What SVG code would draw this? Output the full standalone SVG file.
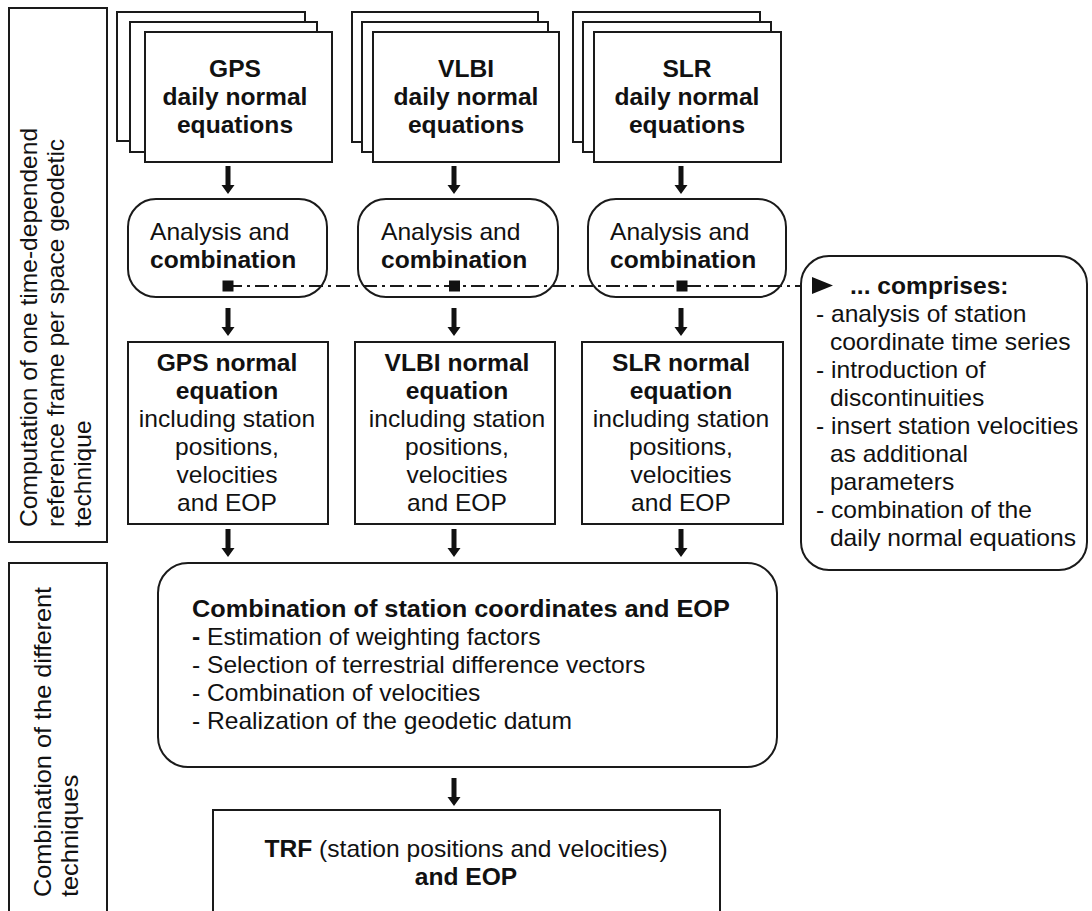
<svg xmlns="http://www.w3.org/2000/svg" xmlns:xlink="http://www.w3.org/1999/xlink" width="1092" height="911" viewBox="0 0 1092 911">
<style>
.box{fill:#fff;stroke:#1a1a1a;stroke-width:2}
.t{font-family:"Liberation Sans",Arial,Helvetica,sans-serif;font-size:23px;fill:#111}
.m{text-anchor:middle}
.b{font-weight:bold}
.dd{fill:none;stroke:#1a1a1a;stroke-width:2;stroke-dasharray:14 5 3 5}
.sq{fill:#111}
</style>
<defs>
<path id="arr" d="M-2.5 0H2.5V19H6.5L0 28L-6.5 19H-2.5Z" fill="#111"/>
</defs>
<rect width="1092" height="911" fill="#fff"/>

<g id="label-top">
<rect class="box" x="9" y="8" width="98" height="534"/>
<g class="t">
<text transform="translate(37 527) rotate(-90) scale(1.07 1)">Computation of one time-dependend</text>
<text transform="translate(64 527) rotate(-90) scale(1.07 1)">reference frame per space geodetic</text>
<text transform="translate(91 527) rotate(-90) scale(1.07 1)">technique</text>
</g>
</g>

<g id="label-bottom">
<rect class="box" x="9" y="563" width="98" height="370"/>
<g class="t">
<text transform="translate(51 897) rotate(-90) scale(1.1 1)">Combination of the different</text>
<text transform="translate(78 897) rotate(-90) scale(1.1 1)">techniques</text>
</g>
</g>

<g id="gps-daily">
<rect class="box" x="117" y="12" width="188" height="129"/>
<rect class="box" x="130" y="22" width="187" height="130"/>
<rect class="box" x="145" y="32" width="187" height="130"/>
<g class="t m b" transform="translate(235 0) scale(1.07 1)">
<text x="0" y="77">GPS</text>
<text x="0" y="105">daily normal</text>
<text x="0" y="133">equations</text>
</g>
</g>

<g id="vlbi-daily">
<rect class="box" x="352" y="12" width="186" height="130"/>
<rect class="box" x="362" y="22" width="186" height="130"/>
<rect class="box" x="373" y="32" width="186" height="130"/>
<g class="t m b" transform="translate(466 0) scale(1.07 1)">
<text x="0" y="77">VLBI</text>
<text x="0" y="105">daily normal</text>
<text x="0" y="133">equations</text>
</g>
</g>

<g id="slr-daily">
<rect class="box" x="573" y="12" width="187" height="130"/>
<rect class="box" x="583" y="22" width="188" height="130"/>
<rect class="box" x="594" y="32" width="187" height="130"/>
<g class="t m b" transform="translate(687 0) scale(1.07 1)">
<text x="0" y="77">SLR</text>
<text x="0" y="105">daily normal</text>
<text x="0" y="133">equations</text>
</g>
</g>

<g id="gps-analysis">
<rect class="box" x="128" y="199" width="199" height="98" rx="28"/>
<g class="t" transform="translate(150 0) scale(1.07 1)">
<text x="0" y="240">Analysis and</text>
<text x="0" y="268" class="b">combination</text>
</g>
</g>

<g id="vlbi-analysis">
<rect class="box" x="358" y="199" width="200" height="98" rx="28"/>
<g class="t" transform="translate(381 0) scale(1.07 1)">
<text x="0" y="240">Analysis and</text>
<text x="0" y="268" class="b">combination</text>
</g>
</g>

<g id="slr-analysis">
<rect class="box" x="588" y="199" width="198" height="98" rx="28"/>
<g class="t" transform="translate(610 0) scale(1.07 1)">
<text x="0" y="240">Analysis and</text>
<text x="0" y="268" class="b">combination</text>
</g>
</g>

<g id="comprises">
<rect class="box" x="801" y="256" width="286" height="314" rx="28"/>
<path d="M812 277L833 285.5L812 294Z" fill="#111"/>
<g class="t" transform="translate(816 0) scale(1.07 1)">
<text x="31.8" y="294" class="b">... comprises:</text>
<text x="0" y="322">- analysis of station</text>
<text x="13" y="350">coordinate time series</text>
<text x="0" y="378">- introduction of</text>
<text x="13" y="406">discontinuities</text>
<text x="0" y="434">- insert station velocities</text>
<text x="13" y="462">as additional</text>
<text x="13" y="490">parameters</text>
<text x="0" y="518">- combination of the</text>
<text x="13" y="546">daily normal equations</text>
</g>
</g>

<g id="gps-normal">
<rect class="box" x="128" y="342" width="200" height="182"/>
<g class="t m" transform="translate(227 0) scale(1.07 1)">
<text x="0" y="371" class="b">GPS normal</text>
<text x="0" y="399" class="b">equation</text>
<text x="0" y="427">including station</text>
<text x="0" y="455">positions,</text>
<text x="0" y="483">velocities</text>
<text x="0" y="511">and EOP</text>
</g>
</g>

<g id="vlbi-normal">
<rect class="box" x="355" y="342" width="200" height="182"/>
<g class="t m" transform="translate(457 0) scale(1.07 1)">
<text x="0" y="371" class="b">VLBI normal</text>
<text x="0" y="399" class="b">equation</text>
<text x="0" y="427">including station</text>
<text x="0" y="455">positions,</text>
<text x="0" y="483">velocities</text>
<text x="0" y="511">and EOP</text>
</g>
</g>

<g id="slr-normal">
<rect class="box" x="582" y="342" width="201" height="182"/>
<g class="t m" transform="translate(681 0) scale(1.07 1)">
<text x="0" y="371" class="b">SLR normal</text>
<text x="0" y="399" class="b">equation</text>
<text x="0" y="427">including station</text>
<text x="0" y="455">positions,</text>
<text x="0" y="483">velocities</text>
<text x="0" y="511">and EOP</text>
</g>
</g>

<g id="combination">
<rect class="box" x="158" y="563" width="619" height="204" rx="30"/>
<g class="t">
<text transform="translate(192 617) scale(1.1 1)" class="b">Combination of station coordinates and EOP</text>
<g transform="translate(192 0) scale(1.07 1)">
<text x="0" y="645"><tspan class="b">-</tspan> Estimation of weighting factors</text>
<text x="0" y="673">- Selection of terrestrial difference vectors</text>
<text x="0" y="701">- Combination of velocities</text>
<text x="0" y="729">- Realization of the geodetic datum</text>
</g>
</g>
</g>

<g id="trf">
<rect class="box" x="213" y="810" width="507" height="130"/>
<g class="t m" transform="translate(466 0) scale(1.07 1)">
<text x="0" y="857"><tspan class="b">TRF</tspan> (station positions and velocities)</text>
<text x="0" y="885" class="b">and EOP</text>
</g>
</g>

<g id="connectors">
<use xlink:href="#arr" x="228" y="166"/>
<use xlink:href="#arr" x="454" y="166"/>
<use xlink:href="#arr" x="681" y="166"/>
<use xlink:href="#arr" x="228" y="308"/>
<use xlink:href="#arr" x="454" y="308"/>
<use xlink:href="#arr" x="681" y="308"/>
<use xlink:href="#arr" x="228" y="529"/>
<use xlink:href="#arr" x="454" y="529"/>
<use xlink:href="#arr" x="681" y="529"/>
<use xlink:href="#arr" x="454" y="778"/>
<path class="dd" d="M228 286H801"/>
<rect class="sq" x="222.5" y="280.5" width="11" height="11"/>
<rect class="sq" x="449" y="280.5" width="11" height="11"/>
<rect class="sq" x="676.5" y="280.5" width="11" height="11"/>
</g>
</svg>
